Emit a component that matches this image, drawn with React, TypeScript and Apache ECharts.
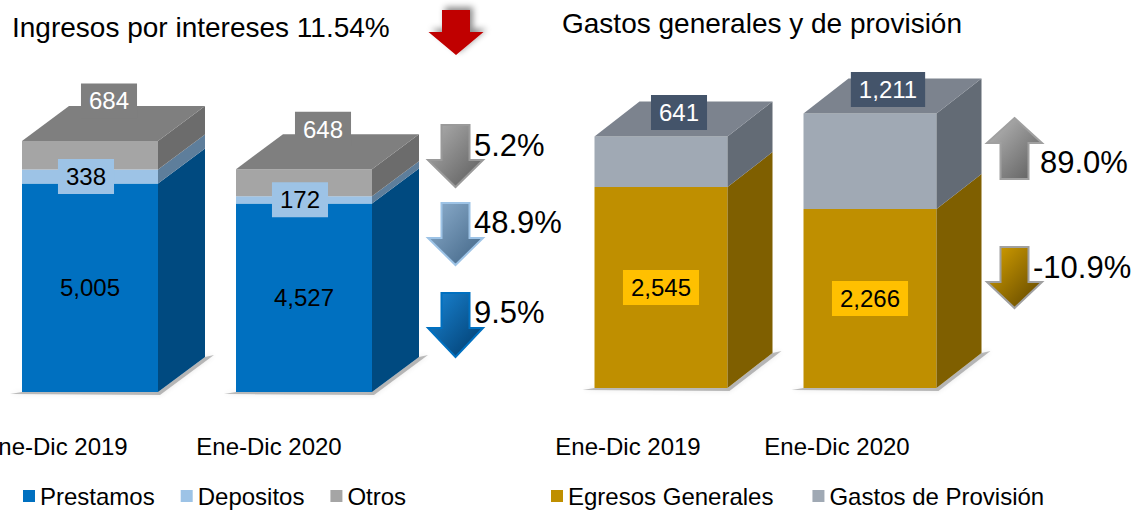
import React, { useEffect, useRef } from "react";
import * as echarts from "echarts";

// ---------- data ----------
const categories = ["Ene-Dic 2019", "Ene-Dic 2020"];
const prestamos = [5005, 4527];
const depositos = [338, 172];
const otros = [684, 648];
const egresos = [2545, 2266];
const provision = [641, 1211];
const leftChanges = ["5.2%", "48.9%", "9.5%"];
const rightChanges = ["89.0%", "-10.9%"];
const leftTitle = "Ingresos por intereses 11.54%";
const rightTitle = "Gastos generales y de provisión";

const FONT = "'Liberation Sans', Arial, Helvetica, sans-serif";

type Geo = { w: number; dx: number; dy: number };
const LEFT_GEO: Geo = { w: 136, dx: 47, dy: -35 };
const RIGHT_GEO: Geo = { w: 133, dx: 45, dy: -35 };

type LabelCfg = {
  mode: "center" | "top";
  fill: string;
  bg?: string;
  ox?: number;
  oy?: number;
};

function fmt(v: number) {
  return v.toLocaleString("en-US");
}

function makeSeries(
  name: string,
  gridIndex: number,
  values: number[],
  bases: number[],
  front: string,
  side: string,
  top: string | null,
  geo: Geo,
  label: LabelCfg,
  bottom: boolean
) {
  return {
    type: "custom",
    name,
    xAxisIndex: gridIndex,
    yAxisIndex: gridIndex,
    itemStyle: { color: front },
    data: values.map((v, i) => [i, bases[i], v]),
    renderItem: (params: any, api: any) => {
      const cat = api.value(0);
      const base = api.value(1);
      const val = api.value(2);
      const p0 = api.coord([cat, base]);
      const p1 = api.coord([cat, base + val]);
      const cx = p0[0];
      const x0 = cx - geo.w / 2;
      const x1 = cx + geo.w / 2;
      const yb = p0[1];
      const yt = p1[1];
      const { dx, dy } = geo;
      const children: any[] = [];
      if (bottom) {
        children.push({
          type: "polygon",
          shape: {
            points: [
              [x0 - 12, yb + 2],
              [x1 + 2, yb + 3],
              [x1 + dx + 9, yb + dy - 2],
              [x1 + dx, yb + dy],
              [x1, yb],
              [x0, yb],
            ],
          },
          style: {
            fill: "rgba(0,0,0,0.25)",
            shadowBlur: 5,
            shadowColor: "rgba(0,0,0,0.4)",
          },
        });
      }
      children.push({
        type: "rect",
        shape: { x: x0, y: yt, width: geo.w, height: yb - yt },
        style: { fill: front },
      });
      children.push({
        type: "polygon",
        shape: {
          points: [
            [x1, yb],
            [x1 + dx, yb + dy],
            [x1 + dx, yt + dy],
            [x1, yt],
          ],
        },
        style: { fill: side },
      });
      if (top) {
        children.push({
          type: "polygon",
          shape: {
            points: [
              [x0, yt],
              [x1, yt],
              [x1 + dx, yt + dy],
              [x0 + dx, yt + dy],
            ],
          },
          style: { fill: top },
        });
      }
      const lx = cx + (label.ox || 0);
      const ly =
        label.mode === "center" ? (yb + yt) / 2 + (label.oy || 0) : yt + (label.oy || 0);
      children.push({
        type: "text",
        z2: 100,
        x: lx,
        y: ly,
        style: {
          text: fmt(val),
          fill: label.fill,
          fontSize: 24,
          fontFamily: FONT,
          align: "center",
          verticalAlign: "middle",
          backgroundColor: label.bg,
          padding: label.bg ? [6, 8, 5, 8] : 0,
        },
      });
      return { type: "group", children };
    },
  };
}

function downArrow(cx: number, top: number, headY: number, bottom: number) {
  const sh = 14;
  const hh = 27.5;
  return [
    [cx - sh, top],
    [cx + sh, top],
    [cx + sh, headY],
    [cx + hh, headY],
    [cx, bottom],
    [cx - hh, headY],
    [cx - sh, headY],
  ];
}
function upArrow(cx: number, top: number, headY: number, bottom: number) {
  const sh = 14;
  const hh = 27.5;
  return [
    [cx, top],
    [cx + hh, headY],
    [cx + sh, headY],
    [cx + sh, bottom],
    [cx - sh, bottom],
    [cx - sh, headY],
    [cx - hh, headY],
  ];
}

function grad(a: string, b: string) {
  return new echarts.graphic.LinearGradient(0, 0, 1, 1, [
    { offset: 0, color: a },
    { offset: 1, color: b },
  ]);
}

export default function App() {
  const ref = useRef<HTMLDivElement>(null);
  useEffect(() => {
    if (!ref.current) return;
    const chart = echarts.init(ref.current, undefined, { renderer: "svg" });

    const depBase = prestamos.map((v) => v);
    const otrBase = prestamos.map((v, i) => v + depositos[i]);
    const zeros = categories.map(() => 0);

    const series = [
      makeSeries("Prestamos", 0, prestamos, zeros, "#0070c0", "#004a80", null, LEFT_GEO,
        { mode: "center", fill: "#000" }, true),
      makeSeries("Depositos", 0, depositos, depBase, "#9dc3e6", "#5e7e9b", null, LEFT_GEO,
        { mode: "center", fill: "#000", bg: "#9dc3e6", ox: -4 }, false),
      makeSeries("Otros", 0, otros, otrBase, "#a5a5a5", "#6c6c6c", "#7f7f7f", LEFT_GEO,
        { mode: "top", fill: "#fff", bg: "#7f7f7f", ox: 19, oy: -40 }, false),
      makeSeries("Egresos Generales", 1, egresos, zeros, "#bf8f00", "#7f5f00", null, RIGHT_GEO,
        { mode: "center", fill: "#000", bg: "#ffc000" }, true),
      makeSeries("Gastos de Provisión", 1, provision, egresos, "#a0a9b4", "#636b75", "#7c838e", RIGHT_GEO,
        { mode: "top", fill: "#fff", bg: "#44546a", ox: 18, oy: -24 }, false),
    ];

    const axisLabel = (margin: number, shift: number) => ({
      fontSize: 24,
      fontFamily: FONT,
      color: "#000",
      margin,
      interval: 0,
      padding: [0, shift, 0, 0],
    });

    const legendBase = {
      icon: "rect",
      itemWidth: 12,
      itemHeight: 12,
      top: 484,
      padding: 0,
      textStyle: { fontSize: 24, fontFamily: FONT, color: "#000" },
    };

    const arrowsLeft = [
      { pts: downArrow(455.5, 125, 160, 187), fill: grad("#b0b0b0", "#5a5a5a"), stroke: "#9a9a9a" },
      { pts: downArrow(455.5, 203, 238, 265), fill: grad("#8fb0cf", "#3f6384"), stroke: "#9dc3e6" },
      { pts: downArrow(455.5, 293, 328, 357), fill: grad("#1a86d6", "#003a6a"), stroke: "#0070c0" },
    ];
    const arrowsRight = [
      { pts: upArrow(1014.5, 118, 143, 179), fill: grad("#bcbcbc", "#5a5a5a"), stroke: "#a0a0a0" },
      { pts: downArrow(1014.5, 247, 282, 308), fill: grad("#d9a300", "#5a4200"), stroke: "#a0a0a0" },
    ];
    const leftTextY = [145, 222, 312];
    const rightTextY = [162, 267];
    const rightTextX = [1040, 1033];

    const graphic: any[] = [
      {
        type: "text",
        x: 12,
        y: 27,
        style: { text: leftTitle, fontSize: 28, fontFamily: FONT, fill: "#000", verticalAlign: "middle" },
      },
      {
        type: "text",
        x: 562,
        y: 23,
        style: { text: rightTitle, fontSize: 28, fontFamily: FONT, fill: "#000", verticalAlign: "middle" },
      },
      {
        type: "polygon",
        shape: { points: downArrow(456, 10, 32, 55) },
        style: {
          fill: "#c00000",
          shadowBlur: 6,
          shadowOffsetX: 3,
          shadowOffsetY: -3,
          shadowColor: "rgba(0,0,0,0.45)",
        },
      },
      ...arrowsLeft.map((a) => ({
        type: "polygon",
        shape: { points: a.pts },
        style: { fill: a.fill, stroke: a.stroke, lineWidth: 2 },
      })),
      ...arrowsRight.map((a) => ({
        type: "polygon",
        shape: { points: a.pts },
        style: { fill: a.fill, stroke: a.stroke, lineWidth: 2 },
      })),
      ...leftChanges.map((t, i) => ({
        type: "text",
        x: 474,
        y: leftTextY[i],
        style: { text: t, fontSize: 31, fontFamily: FONT, fill: "#000", verticalAlign: "middle" },
      })),
      ...rightChanges.map((t, i) => ({
        type: "text",
        x: rightTextX[i],
        y: rightTextY[i],
        style: { text: t, fontSize: 31, fontFamily: FONT, fill: "#000", verticalAlign: "middle" },
      })),
    ];

    chart.setOption({
      animation: false,
      backgroundColor: "#fff",
      grid: [
        { left: 90, width: 214, top: 92, bottom: 118, outerBoundsMode: "none", containLabel: false },
        { left: 661, width: 209, top: 88, bottom: 122, outerBoundsMode: "none", containLabel: false },
      ],
      xAxis: [
        {
          gridIndex: 0,
          type: "category",
          boundaryGap: false,
          data: categories,
          axisLine: { show: false },
          axisTick: { show: false },
          splitLine: { show: false },
          axisLabel: axisLabel(42, 70),
        },
        {
          gridIndex: 1,
          type: "category",
          boundaryGap: false,
          data: categories,
          axisLine: { show: false },
          axisTick: { show: false },
          splitLine: { show: false },
          axisLabel: axisLabel(46, 66),
        },
      ],
      yAxis: [
        { gridIndex: 0, type: "value", min: 0, max: 7200, show: false },
        { gridIndex: 1, type: "value", min: 0, max: 3800, show: false },
      ],
      legend: [
        { ...legendBase, left: 23, itemGap: 26, data: ["Prestamos", "Depositos", "Otros"] },
        { ...legendBase, left: 551, itemGap: 39, data: ["Egresos Generales", "Gastos de Provisión"] },
      ],
      graphic,
      series,
    });

    return () => chart.dispose();
  }, []);

  return (
    <div
      ref={ref}
      style={{ position: "fixed", left: 0, top: 0, width: 1137, height: 510, background: "#fff" }}
    />
  );
}
